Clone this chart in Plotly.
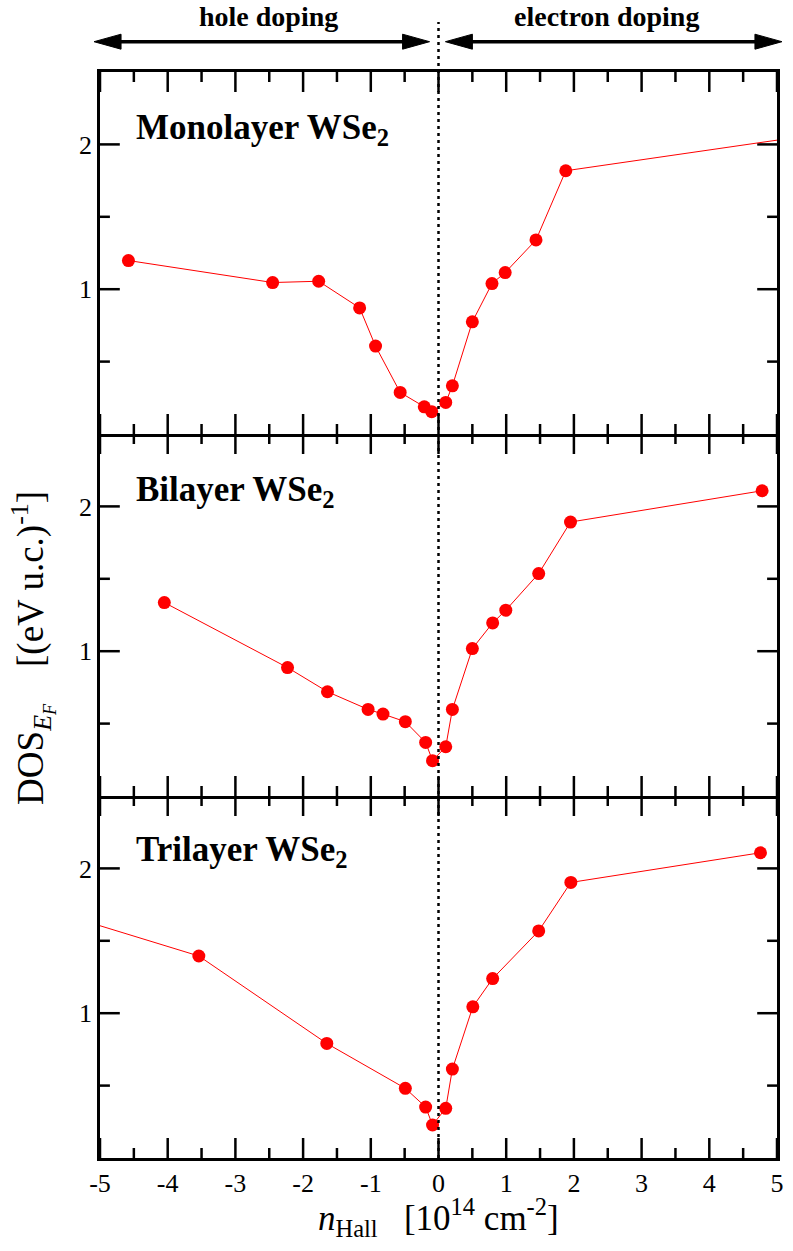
import plotly.graph_objects as go

# Hall carrier density (10^14 cm^-2) and DOS at E_F ((eV u.c.)^-1)
mono_n = [-4.58, -2.45, -1.77, -1.165, -0.93, -0.566, -0.21, -0.10,
          0.107, 0.205, 0.50, 0.79, 0.985, 1.44, 1.88, 5.6]
mono_dos = [1.198, 1.046, 1.055, 0.871, 0.607, 0.287, 0.188, 0.154,
            0.218, 0.333, 0.775, 1.039, 1.115, 1.34, 1.818, 2.07]

bi_n = [-4.05, -2.23, -1.64, -1.04, -0.82, -0.49, -0.19, -0.088,
        0.107, 0.205, 0.50, 0.80, 0.994, 1.48, 1.95, 4.78]
bi_dos = [1.336, 0.887, 0.72, 0.598, 0.566, 0.513, 0.37, 0.244,
          0.34, 0.598, 1.018, 1.195, 1.283, 1.536, 1.892, 2.108]

tri_n = [-5.6, -3.54, -1.65, -0.49, -0.19, -0.088,
         0.107, 0.205, 0.507, 0.80, 1.48, 1.955, 4.756]
tri_dos = [1.69, 1.395, 0.791, 0.481, 0.352, 0.228,
           0.343, 0.614, 1.044, 1.239, 1.568, 1.903, 2.108]

panel_titles = ["Monolayer WSe<sub>2</sub>", "Bilayer WSe<sub>2</sub>", "Trilayer WSe<sub>2</sub>"]
x_ticks = [-5, -4, -3, -2, -1, 0, 1, 2, 3, 4, 5]
x_minor = [-4.5, -3.5, -2.5, -1.5, -0.5, 0.5, 1.5, 2.5, 3.5, 4.5]
y_ticks = [1, 2]
y_minor = [0.5, 1.5]

FONT = "Liberation Serif, Times New Roman, serif"
RED = "#ff0000"

W, H = 793, 1251
M_L, M_R, M_T, M_B = 100, 9, 72, 93
X_RANGE = [-5, 5]
Y_RANGE = [0, 2.5]
MAJOR_LEN, MINOR_LEN, TICK_W = 20, 10, 2.5

# axis units per screen pixel, used to give the tick marks a fixed pixel length
x_per_px = (X_RANGE[1] - X_RANGE[0]) / (W - M_L - M_R)
y_per_px = (Y_RANGE[1] - Y_RANGE[0]) / ((H - M_T - M_B) / 3)

series = [(mono_n, mono_dos), (bi_n, bi_dos), (tri_n, tri_dos)]
domains = [[2 / 3, 1.0], [1 / 3, 2 / 3], [0.0, 1 / 3]]


def tick_marks():
    """Inward tick marks on all four sides of one panel."""
    tx, ty = [], []
    for vals, length in [(x_ticks, MAJOR_LEN), (x_minor, MINOR_LEN)]:
        d = length * y_per_px
        for v in vals:
            tx += [v, v, None, v, v, None]
            ty += [Y_RANGE[0], Y_RANGE[0] + d, None, Y_RANGE[1], Y_RANGE[1] - d, None]
    for vals, length in [(y_ticks, MAJOR_LEN), (y_minor, MINOR_LEN)]:
        d = length * x_per_px
        for v in vals:
            tx += [X_RANGE[0], X_RANGE[0] + d, None, X_RANGE[1], X_RANGE[1] - d, None]
            ty += [v, v, None, v, v, None]
    return tx, ty


fig = go.Figure()
layout = dict(
    width=W, height=H,
    margin=dict(l=M_L, r=M_R, t=M_T, b=M_B),
    paper_bgcolor="white", plot_bgcolor="white",
    showlegend=False,
    font=dict(family=FONT, color="black", size=26),
)

for i, (xs, ys) in enumerate(series):
    suffix = "" if i == 0 else str(i + 1)
    xname, yname = "x" + suffix, "y" + suffix
    tx, ty = tick_marks()
    fig.add_trace(go.Scatter(
        x=tx, y=ty, mode="lines", line=dict(color="black", width=TICK_W),
        hoverinfo="skip", xaxis=xname, yaxis=yname,
    ))
    fig.add_trace(go.Scatter(
        x=xs, y=ys, mode="lines+markers",
        line=dict(color=RED, width=1),
        marker=dict(color=RED, size=13),
        xaxis=xname, yaxis=yname,
    ))
    layout["xaxis" + suffix] = dict(
        domain=[0, 1], anchor=yname, range=X_RANGE,
        tickmode="array", tickvals=x_ticks, ticktext=[str(v) for v in x_ticks],
        showticklabels=(i == 2), ticks="",
        showline=True, linewidth=2.5, linecolor="black", mirror=(i == 0),
        showgrid=False, zeroline=False,
        tickfont=dict(family=FONT, size=26, color="black"),
    )
    layout["yaxis" + suffix] = dict(
        domain=domains[i], anchor=xname, range=Y_RANGE,
        tickmode="array", tickvals=y_ticks, ticktext=[str(v) for v in y_ticks],
        ticks="",
        showline=True, linewidth=2.5, linecolor="black", mirror=True,
        showgrid=False, zeroline=False,
        tickfont=dict(family=FONT, size=26, color="black"),
    )

shapes = []
# dotted line at zero doping across all panels
shapes.append(dict(type="line", xref="x", yref="paper", x0=0, x1=0, y0=0, y1=1.046,
                   line=dict(color="black", width=2.5, dash="3px,4px"), layer="above"))

# doping direction arrows (paper coordinates above the top panel)
arrow_y = 1.0279
HEAD_L, HEAD_W = 27, 7.5
for left, right in [(-0.0088, 0.4868), (0.5102, 1.0073)]:
    shapes.append(dict(type="line", xref="paper", yref="paper",
                       x0=left + 0.02, x1=right - 0.02, y0=arrow_y, y1=arrow_y,
                       line=dict(color="black", width=3.5)))
    shapes.append(dict(type="path", xref="paper", yref="paper",
                       xsizemode="pixel", ysizemode="pixel", xanchor=left, yanchor=arrow_y,
                       path=f"M0,0 L{HEAD_L},{HEAD_W} L{HEAD_L},{-HEAD_W} Z",
                       fillcolor="black", line=dict(color="black", width=1)))
    shapes.append(dict(type="path", xref="paper", yref="paper",
                       xsizemode="pixel", ysizemode="pixel", xanchor=right, yanchor=arrow_y,
                       path=f"M0,0 L{-HEAD_L},{HEAD_W} L{-HEAD_L},{-HEAD_W} Z",
                       fillcolor="black", line=dict(color="black", width=1)))
layout["shapes"] = shapes

annotations = []
label_y = [0.9475, 0.614, 0.282]
for t, yy in zip(panel_titles, label_y):
    annotations.append(dict(
        text="<b>" + t + "</b>", xref="paper", yref="paper", x=0.05, y=yy,
        xanchor="left", yanchor="middle", showarrow=False,
        font=dict(family=FONT, size=35, color="black"),
    ))

annotations.append(dict(text="<b>hole doping</b>", xref="paper", yref="paper",
                        x=0.2485, y=1.0509, xanchor="center", yanchor="middle",
                        showarrow=False, font=dict(family=FONT, size=28)))
annotations.append(dict(text="<b>electron doping</b>", xref="paper", yref="paper",
                        x=0.7485, y=1.0509, xanchor="center", yanchor="middle",
                        showarrow=False, font=dict(family=FONT, size=28)))

# axis titles
annotations.append(dict(
    text="<i>n</i><sub>Hall</sub>&nbsp;&nbsp;&nbsp;[10<sup>14</sup> cm<sup>-2</sup>]",
    xref="paper", yref="paper", x=0.5, y=-0.055, xanchor="center", yanchor="middle",
    showarrow=False, font=dict(family=FONT, size=35),
))
annotations.append(dict(
    text="DOS<sub><i>E<sub>F</sub></i></sub>&nbsp;&nbsp;&nbsp;&nbsp;[(eV u.c.)<sup>-1</sup>]",
    xref="paper", yref="paper", x=-0.100, y=0.470, xanchor="center", yanchor="middle",
    textangle=-90, showarrow=False, font=dict(family=FONT, size=37),
))
layout["annotations"] = annotations

fig.update_layout(**layout)
fig.write_html("out.html")
